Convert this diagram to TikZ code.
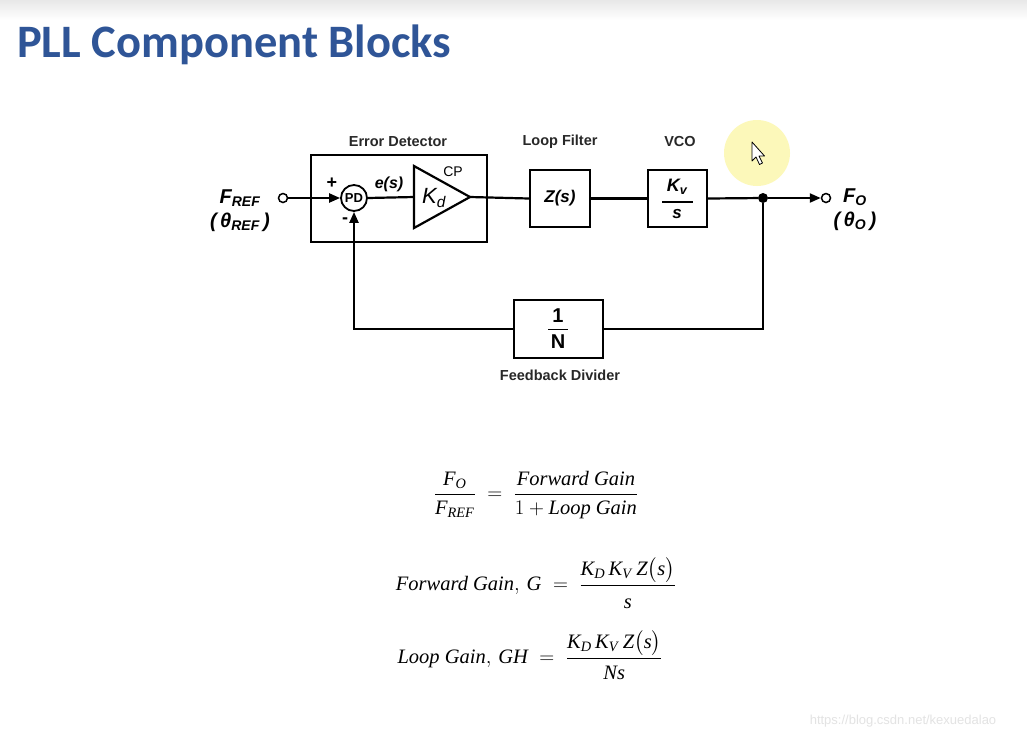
\documentclass[tikz,border=0pt]{standalone}
\usepackage{fontspec}
\usepackage{amsmath}
\setmainfont{Liberation Serif}
\setsansfont{Liberation Sans}
\newfontfamily\titlefont{Carlito}
\usetikzlibrary{arrows.meta}
\definecolor{titleblue}{RGB}{47,85,151}
\definecolor{inkgray}{RGB}{40,40,40}
\definecolor{hilite}{RGB}{252,247,175}
\begin{document}
\begin{tikzpicture}[x=1pt,y=-1pt,
  wire/.style={line width=2.2pt, draw=black},
  blk/.style={draw=black, line width=2.2pt, inner sep=0pt, font=\sffamily\bfseries\itshape\fontsize{17}{19}\selectfont},
  lbl/.style={font=\sffamily\bfseries\fontsize{14.5}{16}\selectfont, text=inkgray},
  arr/.style={-{Triangle[length=11pt,width=9pt]}},
  port/.style={circle, draw=black, line width=1.5pt, fill=white, minimum size=9pt, inner sep=0pt},
  sig/.style={font=\sffamily\bfseries\itshape\fontsize{20}{24}\selectfont, align=center},
  eq/.style={font=\fontsize{20.5}{25}\selectfont}
]
\useasboundingbox (0,0) rectangle (1027,740);
\fill[white] (0,0) rectangle (1027,740);
\shade[top color=gray!18, bottom color=white] (0,0) rectangle (1027,20);

% title
\node[anchor=west, font=\titlefont\bfseries\fontsize{46.5}{54}\selectfont, text=titleblue, inner sep=0pt] (title) at (17,45) {PLL Component Blocks};

% cursor highlight
\fill[hilite, opacity=0.85] (757,153) circle (33);
\draw[black, line width=0.8pt, fill=white, line join=round] (752,142) -- (752,161) -- (756,157) -- (759.5,164.5) -- (762.5,163) -- (759,156) -- (764.5,156) -- cycle;

% error detector
\node[draw=black, line width=2.2pt, minimum width=176pt, minimum height=87pt, inner sep=0pt] (ed) at (399,198.5) {};
\node[lbl] (edl) at (398,142) {Error Detector};
\node[circle, draw=black, line width=1.8pt, minimum size=26pt, inner sep=0pt, font=\sffamily\bfseries\fontsize{13}{13}\selectfont] (pd) at (354,198) {PD};
\node[font=\sffamily\bfseries\fontsize{18}{18}\selectfont] (plus) at (332,183) {+};
\node[font=\sffamily\bfseries\fontsize{18}{18}\selectfont] (minus) at (345,221) {-};
\node[font=\sffamily\bfseries\itshape\fontsize{16}{16}\selectfont] (es) at (389,184) {e(s)};
\coordinate (ampin) at (414,197);
\coordinate (ampout) at (470,197);
\draw[wire, line join=miter] (414,166) -- (ampout) -- (414,228) -- cycle;
\node[font=\sffamily\fontsize{14}{14}\selectfont] (cp) at (453,172) {CP};
\node[font=\sffamily\itshape\fontsize{22}{22}\selectfont] (kd) at (434,198) {K\textsubscript{d}};

% loop filter
\node[blk, minimum width=60pt, minimum height=57pt] (zf) at (560,198.5) {Z(s)};
\node[lbl] (lfl) at (560,142) {Loop Filter};

% vco
\node[blk, minimum width=59pt, minimum height=57pt] (vco) at (677.5,198.5) {};
\node[lbl] (vcol) at (680,142) {VCO};
\node[font=\sffamily\bfseries\itshape\fontsize{18}{18}\selectfont] (kv) at (677,187) {K\textsubscript{v}};
\node[font=\sffamily\bfseries\itshape\fontsize{17}{17}\selectfont] (vs) at (677,214) {s};
\coordinate (kvl) at (662,202);
\coordinate (kvr) at (693,202);
\draw[line width=1.4pt] (kvl) -- (kvr);

% feedback divider
\node[blk, minimum width=89pt, minimum height=58pt] (fb) at (558.5,329) {};
\node[lbl] (fbl) at (560,375) {Feedback Divider};
\node[font=\sffamily\bfseries\fontsize{20}{20}\selectfont] (one) at (558,316) {1};
\node[font=\sffamily\bfseries\fontsize{20}{20}\selectfont] (nn) at (558,342) {N};
\coordinate (fbl1) at (548,329.5);
\coordinate (fbl2) at (568,329.5);
\draw[line width=1.4pt] (fbl1) -- (fbl2);

% ports and signals
\node[port] (in) at (283,198) {};
\node[sig] (frefl) at (240,211) {F\textsubscript{REF}\\(\,θ\textsubscript{REF}\,)};
\node[circle, fill=black, minimum size=10pt, inner sep=0pt] (dot) at (763,198) {};
\node[port] (out) at (826,198) {};
\node[sig] (fol) at (855,210) {F\textsubscript{O}\\(\,θ\textsubscript{O}\,)};

% connectors
\draw[wire, arr] (in) -- (pd.west);
\draw[wire] (pd.east) -- (ampin);
\draw[wire] (ampout) -- (zf.west);
\draw[wire] (zf.east) -- (vco.west);
\draw[wire] (vco.east) -- (dot);
\draw[wire, arr] (dot) -- (out);
\draw[wire] (dot) |- (fb.east);
\draw[wire, arr] (fb.west) -| (pd.south);

% equations
\node[eq] (eq1) at (536,495) {$\dfrac{\textit{F}\textsubscript{\textit{O}}}{\rule{0pt}{16pt}\textit{F}\textsubscript{\textit{REF}}} \;=\; \dfrac{\textit{Forward Gain}}{\rule{0pt}{16pt}1 + \textit{Loop Gain}}$};
\node[eq] (eq2) at (536,583) {$\textit{Forward Gain},\, \textit{G} \;=\; \dfrac{\textit{K}\textsubscript{\textit{D}}\,\textit{K}\textsubscript{\textit{V}}\,\textit{Z}\bigl(\textit{s}\bigr)}{\rule{0pt}{20pt}\textit{s}}$};
\node[eq] (eq3) at (530,655) {$\textit{Loop Gain},\, \textit{GH} \;=\; \dfrac{\textit{K}\textsubscript{\textit{D}}\,\textit{K}\textsubscript{\textit{V}}\,\textit{Z}\bigl(\textit{s}\bigr)}{\rule{0pt}{18pt}\textit{Ns}}$};

% watermark
\node[text=gray!22, font=\sffamily\fontsize{13}{13}\selectfont] (wm) at (903,721) {https://blog.csdn.net/kexuedalao};
\end{tikzpicture}
\end{document}
